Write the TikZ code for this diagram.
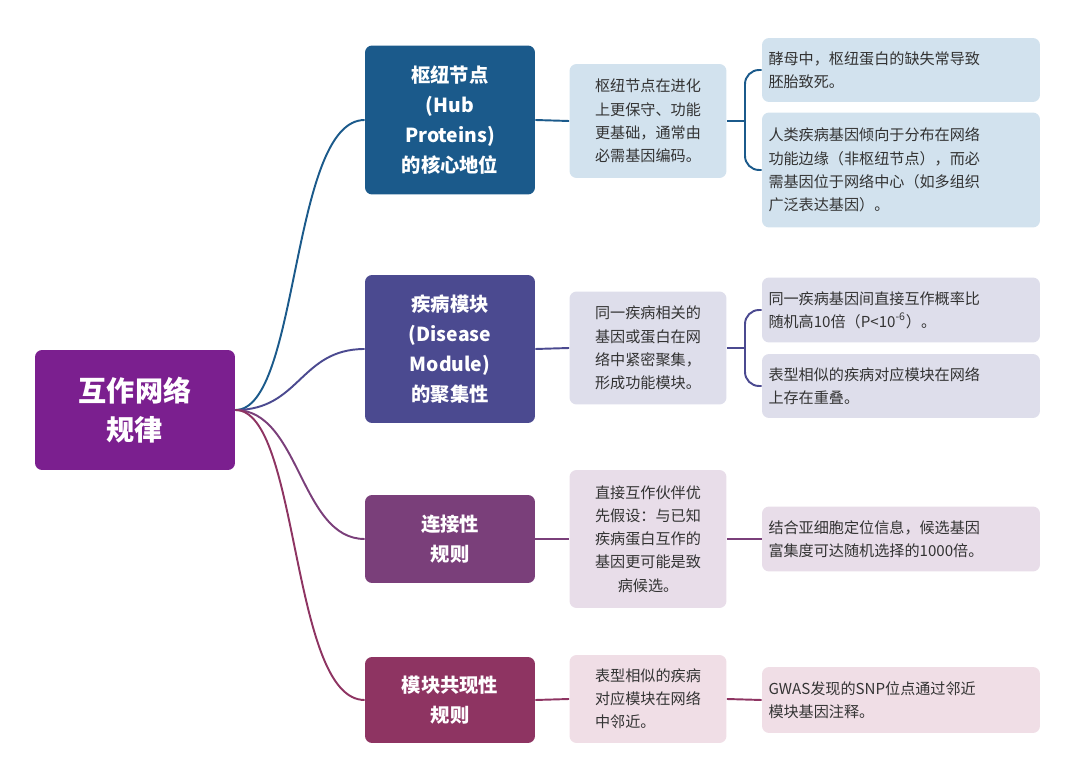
\documentclass[tikz,border=0pt]{standalone}
\usepackage{fontspec}
\setmainfont{Noto Sans CJK SC}
\usetikzlibrary{positioning}

\definecolor{rootc}{HTML}{7B1F8F}
\definecolor{hubc}{HTML}{1B5A8B}
\definecolor{modc}{HTML}{4B4A90}
\definecolor{conc}{HTML}{7A3F7A}
\definecolor{cooc}{HTML}{8E3462}
\definecolor{hubl}{HTML}{D2E2EE}
\definecolor{modl}{HTML}{DEDEEB}
\definecolor{conl}{HTML}{E8DDE9}
\definecolor{cool}{HTML}{F0DEE6}

\tikzset{
  rootbox/.style={rounded corners=4pt, fill=rootc, text=white, font=\fontsize{16}{22}\selectfont\bfseries,
    minimum width=4cm, minimum height=2.4cm, align=center},
  topic/.style={rounded corners=4pt, text=white, font=\fontsize{11}{17}\selectfont\bfseries,
    minimum width=3.4cm, align=center},
  summ/.style={rounded corners=4pt, font=\fontsize{8.6}{13.2}\selectfont, text=black!80,
    minimum width=3.14cm, align=left},
  fact/.style={rounded corners=4pt, font=\fontsize{8.6}{13.2}\selectfont, text=black!80,
    minimum width=5.56cm, text width=5.3cm, align=left},
  link/.style={line width=1.1pt}
}

\begin{document}
\begin{tikzpicture}[x=0.02cm,y=-0.02cm]
\useasboundingbox (0,0) rectangle (1080,777);

\node[rootbox] (root) at (135,410) {互作网络\\规律};

\node[topic, fill=hubc, minimum height=2.98cm] (hub) at (450,120) {枢纽节点\\(Hub\\Proteins)\\的核心地位};
\node[topic, fill=modc, minimum height=2.96cm] (mod) at (450,349) {疾病模块\\(Disease\\Module)\\的聚集性};
\node[topic, fill=conc, minimum height=1.76cm] (con) at (450,539) {连接性\\规则};
\node[topic, fill=cooc, minimum height=1.72cm] (coo) at (450,700) {模块共现性\\规则};

\node[summ, fill=hubl, minimum height=2.28cm] (hubs) at (648,121) {枢纽节点在进化\\上更保守、功能\\更基础，通常由\\必需基因编码。};
\node[summ, fill=modl, minimum height=2.26cm] (mods) at (648,348) {同一疾病相关的\\基因或蛋白在网\\络中紧密聚集，\\形成功能模块。};
\node[summ, fill=conl, minimum height=2.76cm, align=center] (cons) at (648,539) {直接互作伙伴优\\先假设：与已知\\疾病蛋白互作的\\基因更可能是致\\病候选。};
\node[summ, fill=cool, minimum height=1.76cm] (coos) at (648,699) {表型相似的疾病\\对应模块在网络\\中邻近。};

\node[fact, fill=hubl, minimum height=1.28cm] (hubf1) at (901,70) {酵母中，枢纽蛋白的缺失常导致\\胚胎致死。};
\node[fact, fill=hubl, minimum height=2.3cm] (hubf2) at (901,170) {人类疾病基因倾向于分布在网络\\功能边缘（非枢纽节点），而必\\需基因位于网络中心（如多组织\\广泛表达基因）。};
\node[fact, fill=modl, minimum height=1.3cm] (modf1) at (901,310) {同一疾病基因间直接互作概率比\\随机高10倍（P<10\textsuperscript{-6}）。};
\node[fact, fill=modl, minimum height=1.28cm] (modf2) at (901,386) {表型相似的疾病对应模块在网络\\上存在重叠。};
\node[fact, fill=conl, minimum height=1.3cm] (conf) at (901,539) {结合亚细胞定位信息，候选基因\\富集度可达随机选择的1000倍。};
\node[fact, fill=cool, minimum height=1.32cm] (coof) at (901,700) {GWAS发现的SNP位点通过邻近\\模块基因注释。};

\coordinate (hub split) at (745,121);
\coordinate (mod split) at (745,348);

% root to topics
\draw[link, hubc] (root.east) .. controls (300,410) and (290,120) .. (hub.west);
\draw[link, modc] (root.east) .. controls (300,410) and (300,349) .. (mod.west);
\draw[link, conc] (root.east) .. controls (300,410) and (300,539) .. (con.west);
\draw[link, cooc] (root.east) .. controls (300,410) and (290,700) .. (coo.west);

% topics to summaries
\draw[link, hubc] (hub.east) -- (hubs.west);
\draw[link, modc] (mod.east) -- (mods.west);
\draw[link, conc] (con.east) -- (cons.west);
\draw[link, cooc] (coo.east) -- (coos.west);

% summaries to facts
\draw[link, hubc] (hubs.east) -- (hub split);
\draw[link, hubc, rounded corners=8pt] (hub split) |- (hubf1.west);
\draw[link, hubc, rounded corners=8pt] (hub split) |- (hubf2.west);
\draw[link, modc] (mods.east) -- (mod split);
\draw[link, modc, rounded corners=8pt] (mod split) |- (modf1.west);
\draw[link, modc, rounded corners=8pt] (mod split) |- (modf2.west);
\draw[link, conc] (cons.east) -- (conf.west);
\draw[link, cooc] (coos.east) -- (coof.west);
\end{tikzpicture}
\end{document}
